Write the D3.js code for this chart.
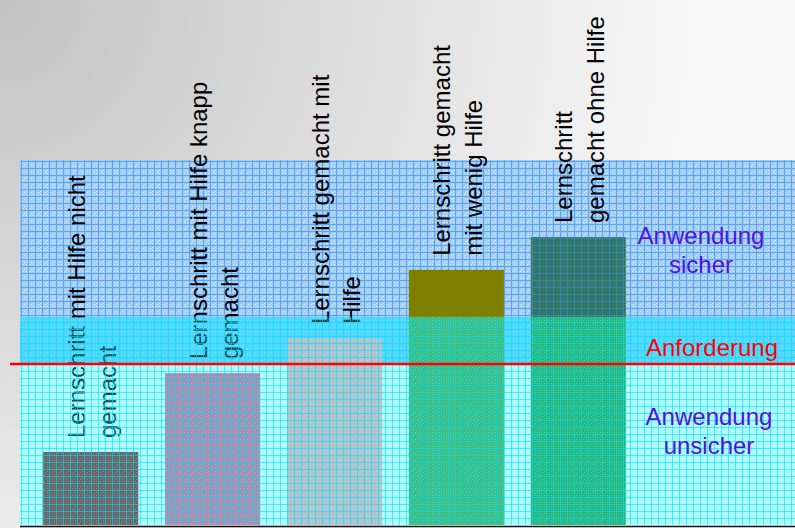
<!DOCTYPE html>
<html>
<head>
<meta charset="utf-8">
<script src="https://cdn.jsdelivr.net/npm/d3@7"></script>
<style>
  body { margin: 0; padding: 0; overflow: hidden; }
  svg { display: block; font-family: "Liberation Sans", Arial, sans-serif; }
</style>
</head>
<body>
<svg id="chart" width="795" height="528"></svg>
<script>
// data
var categories = ["k1", "k2", "k3", "k4", "k5"];
var labelLines = [
  ["Lernschritt mit Hilfe nicht", "gemacht"],
  ["Lernschritt mit Hilfe knapp", "gemacht"],
  ["Lernschritt gemacht mit", "Hilfe"],
  ["Lernschritt gemacht", "mit wenig Hilfe"],
  ["Lernschritt", "gemacht ohne Hilfe"]
];
var values = [20, 41.6, 51.2, 69.9, 78.9];
var bandLimits = [0, 44.1, 57, 100];
var bandLabels = [["Anwendung", "unsicher"], ["Anforderung"], ["Anwendung", "sicher"]];

// styles
var barLow = ["#962822", "#f0608e", "#ffb0b8", "#56a94c", "#39a145"];
var barHigh = ["#962822", "#f0608e", "#ffb0b8", "#808000", "#327864"];
var barHighGrid = [false, false, false, false, true];
var bandUnder = ["#f8ffff", "#72ccff", "url(#gridTop)"];
var bandLabelColor = ["#5510e0", "#ff0000", "#5510e0"];
var bandLabelDy = [[-20, 9], [16], [6, 35]];

var width = 795, height = 528;
var svg = d3.select("#chart");
var defs = svg.append("defs");

var grad = defs.append("radialGradient")
  .attr("id", "bg")
  .attr("gradientUnits", "userSpaceOnUse")
  .attr("cx", 0).attr("cy", 0).attr("r", 720);
grad.append("stop").attr("offset", 0).attr("stop-color", "#c2c2c2");
grad.append("stop").attr("offset", 1).attr("stop-color", "#fafafa");

var pTop = defs.append("pattern")
  .attr("id", "gridTop")
  .attr("patternUnits", "userSpaceOnUse")
  .attr("width", 7).attr("height", 7);
pTop.append("rect").attr("width", 7).attr("height", 7).attr("fill", "#a2cdf5");
pTop.append("path").attr("d", "M0,0.5H7M0.5,0V7")
  .attr("stroke", "#5aa6f2").attr("stroke-width", 1);
pTop.append("path").attr("d", "M3,3.5h1M5,5.5h1M2,5.5h1M5,2.5h1")
  .attr("stroke", "#ffffff").attr("stroke-opacity", 0.6).attr("stroke-width", 1);

// only the lines of the top grid, to lay over a bar
var pTopLines = defs.append("pattern")
  .attr("id", "gridTopLines")
  .attr("patternUnits", "userSpaceOnUse")
  .attr("width", 7).attr("height", 7);
pTopLines.append("path").attr("d", "M0,0.5H7M0.5,0V7")
  .attr("stroke", "#3a90e8").attr("stroke-opacity", 0.55).attr("stroke-width", 1);

var pLow = defs.append("pattern")
  .attr("id", "gridLow")
  .attr("patternUnits", "userSpaceOnUse")
  .attr("width", 7).attr("height", 7);
pLow.append("rect").attr("width", 7).attr("height", 7)
  .attr("fill", "rgb(0,240,255)").attr("fill-opacity", 0.3);
pLow.append("path").attr("d", "M0,0.5H7M0.5,0V7")
  .attr("stroke", "rgb(0,225,250)").attr("stroke-opacity", 0.6).attr("stroke-width", 1);
pLow.append("path").attr("d", "M3,3.5h1M5,5.5h1M2,5.5h1M5,2.5h1")
  .attr("stroke", "#ffffff").attr("stroke-opacity", 0.25).attr("stroke-width", 1);

var xScale = d3.scaleBand()
  .domain(categories)
  .range([31, 638])
  .paddingInner(0.22)
  .paddingOuter(0.1);

var yScale = d3.scaleLinear()
  .domain([0, 100])
  .range([525, 160]);

var bandX0 = 20, bandX1 = width;

svg.append("rect")
  .attr("width", width).attr("height", height)
  .attr("fill", "url(#bg)");

// band fills under the bars
svg.selectAll("rect.band")
  .data(d3.range(3))
  .enter()
  .append("rect")
  .attr("class", "band")
  .attr("x", bandX0)
  .attr("width", bandX1 - bandX0)
  .attr("y", function(i) { return yScale(bandLimits[i + 1]); })
  .attr("height", function(i) { return yScale(bandLimits[i]) - yScale(bandLimits[i + 1]); })
  .attr("fill", function(i) { return bandUnder[i]; });

var split = bandLimits[2];

// lower part of each bar
svg.selectAll("rect.barlow")
  .data(values)
  .enter()
  .append("rect")
  .attr("class", "barlow")
  .attr("x", function(d, i) { return xScale(categories[i]); })
  .attr("width", xScale.bandwidth())
  .attr("y", function(d) { return yScale(Math.min(d, split)); })
  .attr("height", function(d) { return yScale(0) - yScale(Math.min(d, split)); })
  .attr("fill", function(d, i) { return barLow[i]; });

// upper part (above the "sicher" limit)
var high = values.map(function(d, i) { return { v: d, i: i }; })
  .filter(function(d) { return d.v > split; });

svg.selectAll("rect.barhigh")
  .data(high)
  .enter()
  .append("rect")
  .attr("class", "barhigh")
  .attr("x", function(d) { return xScale(categories[d.i]); })
  .attr("width", xScale.bandwidth())
  .attr("y", function(d) { return yScale(d.v); })
  .attr("height", function(d) { return yScale(split) - yScale(d.v); })
  .attr("fill", function(d) { return barHigh[d.i]; });

svg.selectAll("rect.barhighgrid")
  .data(high.filter(function(d) { return barHighGrid[d.i]; }))
  .enter()
  .append("rect")
  .attr("class", "barhighgrid")
  .attr("x", function(d) { return xScale(categories[d.i]); })
  .attr("width", xScale.bandwidth())
  .attr("y", function(d) { return yScale(d.v); })
  .attr("height", function(d) { return yScale(split) - yScale(d.v); })
  .attr("fill", "url(#gridTopLines)");

// rotated category labels
var labels = svg.selectAll("text.cat")
  .data(labelLines)
  .enter()
  .append("text")
  .attr("class", "cat")
  .attr("font-size", 24)
  .attr("fill", "#000")
  .attr("transform", function(d, i) {
    var cx = xScale(categories[i]) + xScale.bandwidth() / 2 - 6;
    return "translate(" + cx + "," + (yScale(values[i]) - 14) + ") rotate(-90)";
  });
labels.selectAll("tspan")
  .data(function(d) { return d; })
  .enter()
  .append("tspan")
  .attr("x", 0)
  .attr("dy", function(d, j) { return j === 0 ? 0 : 31.5; })
  .text(function(d) { return d; });

// translucent cyan grid over lower two bands
svg.append("rect")
  .attr("x", bandX0)
  .attr("width", bandX1 - bandX0)
  .attr("y", yScale(bandLimits[2]))
  .attr("height", yScale(0) - yScale(bandLimits[2]))
  .attr("fill", "url(#gridLow)");

// Anforderung line
svg.append("line")
  .attr("x1", 10).attr("x2", width)
  .attr("y1", yScale(bandLimits[1])).attr("y2", yScale(bandLimits[1]))
  .attr("stroke", "#ff0000")
  .attr("stroke-width", 2.5);

svg.append("line")
  .attr("x1", bandX0).attr("x2", width)
  .attr("y1", yScale(0) + 1.5).attr("y2", yScale(0) + 1.5)
  .attr("stroke", "#111")
  .attr("stroke-width", 1.5);

// band names on the right
var bl = svg.selectAll("text.bandlabel")
  .data(bandLabels)
  .enter()
  .append("text")
  .attr("class", "bandlabel")
  .attr("font-size", 24)
  .attr("text-anchor", "middle")
  .attr("fill", function(d, i) { return bandLabelColor[i]; });
bl.selectAll("tspan")
  .data(function(d, i) {
    return d.map(function(t, j) { return { t: t, band: i, j: j }; });
  })
  .enter()
  .append("tspan")
  .attr("x", function(d) { return d.band === 1 ? 712 : (d.band === 2 ? 701 : 709); })
  .attr("y", function(d) {
    var mid = (yScale(bandLimits[d.band]) + yScale(bandLimits[d.band + 1])) / 2;
    return mid + bandLabelDy[d.band][d.j];
  })
  .text(function(d) { return d.t; });
</script>
</body>
</html>
